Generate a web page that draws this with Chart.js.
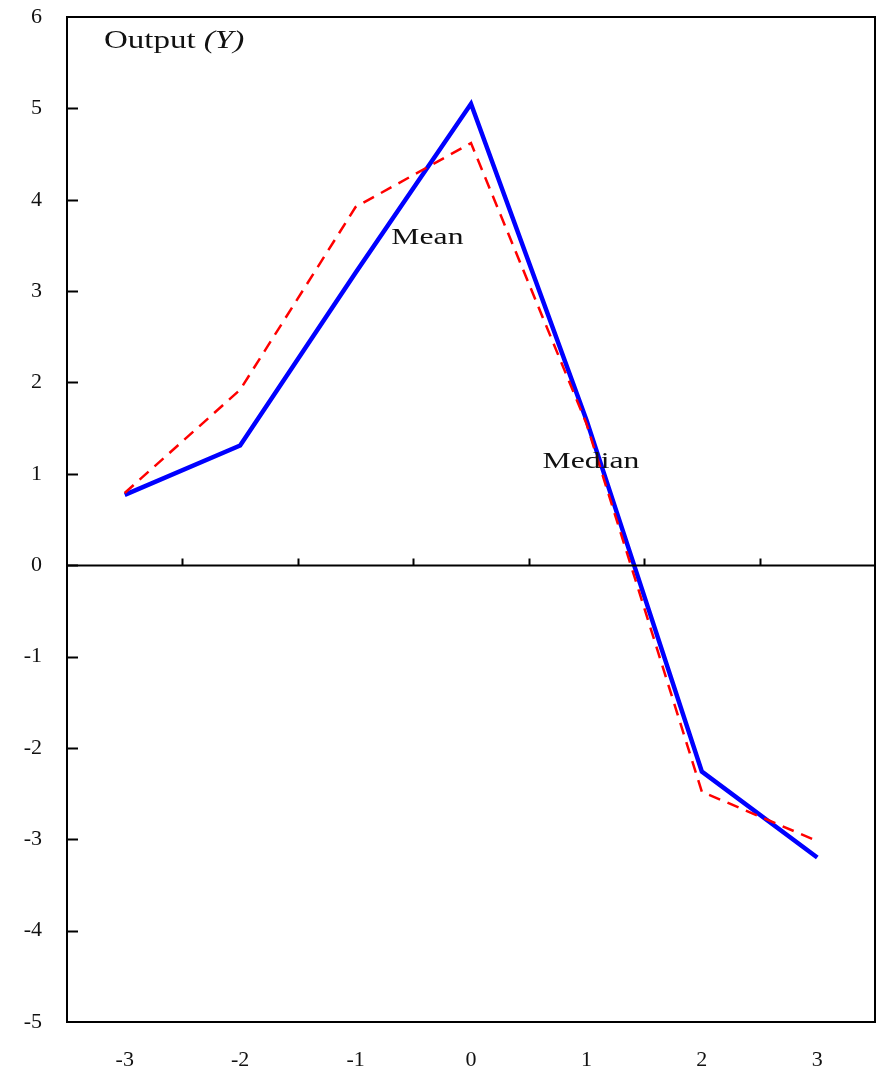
<!DOCTYPE html>
<html>
<head>
<meta charset="utf-8">
<script src="https://cdn.jsdelivr.net/npm/chart.js@4.4.0/dist/chart.umd.min.js"></script>
<style>
  body { margin: 0; background: #fff; }
  #wrap { width: 877px; height: 1071px; }
</style>
</head>
<body>
<div id="wrap"><canvas id="myChart"></canvas></div>
<script>
'use strict';
const periods = ['-3', '-2', '-1', '0', '1', '2', '3'];
const meanLine = [0.77, 1.31, 3.2, 5.05, 1.59, -2.26, -3.2];
const medianLine = [0.79, 1.92, 3.92, 4.62, 1.55, -2.48, -3.02];
const yMin = -5;
const yMax = 6;

const serif = '"Liberation Serif", "Times New Roman", serif';
const stretch = 1.32; // text in the original looks pulled wide

function wideText(ctx, txt, x, y, font) {
  ctx.save();
  ctx.font = font;
  ctx.translate(x, y);
  ctx.scale(stretch, 1);
  ctx.fillText(txt, 0, 0);
  const w = ctx.measureText(txt).width * stretch;
  ctx.restore();
  return w;
}

// box, inside ticks, zero line and the text labels
const extras = {
  id: 'extras',
  afterDraw(chart) {
    const ctx = chart.ctx;
    const a = chart.chartArea;
    const xs = chart.scales.x;
    const ys = chart.scales.y;
    ctx.save();
    ctx.strokeStyle = '#000';
    ctx.lineWidth = 2;
    ctx.strokeRect(a.left, a.top, a.right - a.left, a.bottom - a.top);

    // y ticks pointing in
    for (let v = yMin + 1; v < yMax; v++) {
      const py = Math.round(ys.getPixelForValue(v)) + 0.5;
      ctx.beginPath();
      ctx.moveTo(a.left, py);
      ctx.lineTo(a.left + 11, py);
      ctx.stroke();
    }

    // zero line with small ticks between categories
    const y0 = Math.round(ys.getPixelForValue(0)) + 0.5;
    ctx.beginPath();
    ctx.moveTo(a.left, y0);
    ctx.lineTo(a.right, y0);
    ctx.stroke();
    for (let i = 0; i < periods.length - 1; i++) {
      const px = Math.round(xs.getPixelForValue(i + 0.5)) + 0.5;
      ctx.beginPath();
      ctx.moveTo(px, y0);
      ctx.lineTo(px, y0 - 7);
      ctx.stroke();
    }

    ctx.fillStyle = '#111';
    ctx.textBaseline = 'alphabetic';
    ctx.textAlign = 'left';

    // title
    const tx = xs.getPixelForValue(-0.18);
    const ty = ys.getPixelForValue(5.66);
    const w = wideText(ctx, 'Output ', tx, ty, '25px ' + serif);
    wideText(ctx, '(Y)', tx + w, ty, 'italic 25px ' + serif);

    // series labels
    wideText(ctx, 'Mean', xs.getPixelForValue(2.31), ys.getPixelForValue(3.52), '24px ' + serif);
    wideText(ctx, 'Median', xs.getPixelForValue(3.62), ys.getPixelForValue(1.06), '24px ' + serif);
    ctx.restore();
  }
};

const ctx = document.getElementById('myChart').getContext('2d');
const myChart = new Chart(ctx, {
  type: 'line',
  data: {
    labels: periods,
    datasets: [{
      label: 'Mean',
      data: meanLine,
      borderColor: '#0000ff',
      borderWidth: 4.5,
      pointRadius: 0,
      tension: 0,
      order: 1
    }, {
      label: 'Median',
      data: medianLine,
      borderColor: '#ff0000',
      borderWidth: 2.5,
      borderDash: [12, 8],
      pointRadius: 0,
      tension: 0,
      order: 0
    }]
  },
  options: {
    responsive: true,
    maintainAspectRatio: false,
    animation: false,
    layout: { padding: { top: 17, right: 2, left: 0, bottom: 0 } },
    plugins: {
      legend: { display: false },
      tooltip: { enabled: false }
    },
    scales: {
      x: {
        type: 'category',
        offset: true,
        grid: { display: false, drawTicks: false },
        border: { display: true, color: '#000', width: 2 },
        ticks: {
          color: '#111',
          padding: 25,
          maxRotation: 0,
          font: { family: serif, size: 22 }
        },
        afterFit(scale) {
          scale.height = 49;
          scale.paddingLeft = 0;
          scale.paddingRight = 0;
        }
      },
      y: {
        min: yMin,
        max: yMax,
        grid: { display: false, drawTicks: false },
        border: { display: true, color: '#000', width: 2 },
        ticks: {
          stepSize: 1,
          color: '#111',
          padding: 25,
          font: { family: serif, size: 22 }
        },
        afterFit(scale) {
          scale.width = 67;
          scale.paddingTop = 0;
          scale.paddingBottom = 0;
        }
      }
    }
  },
  plugins: [extras]
});
</script>
</body>
</html>
